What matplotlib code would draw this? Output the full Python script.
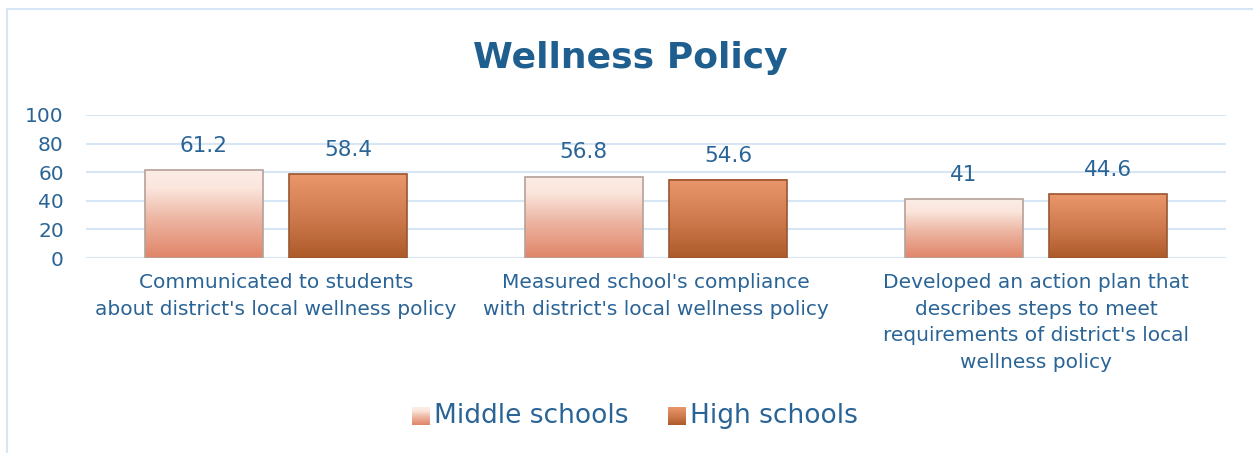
import matplotlib

matplotlib.use("Agg")
import matplotlib.pyplot as plt
import numpy as np
from matplotlib.colors import LinearSegmentedColormap
from matplotlib.patches import Rectangle

plt.rcParams["font.family"] = ["DejaVu Sans"]

categorias = [
    "Communicated to students\nabout district's local wellness policy",
    "Measured school's compliance\nwith district's local wellness policy",
    "Developed an action plan that\ndescribes steps to meet\nrequirements of district's local\nwellness policy",
]
series = ["Middle schools", "High schools"]
middle = [61.2, 56.8, 41]
high = [58.4, 54.6, 44.6]
rotulos_valor_middle = ["61.2", "56.8", "41"]
rotulos_valor_high = ["58.4", "54.6", "44.6"]
yticks = [0, 20, 40, 60, 80, 100]

COR_TEXTO = "#2A6496"
COR_TITULO = "#1F5F8F"
COR_GRID = "#D6E6F4"

cmap_middle = LinearSegmentedColormap.from_list(
    "m", [(0, "#E08468"), (0.45, "#EDB6A3"), (0.8, "#FBE6DD"), (1, "#FCEDE6")])
cmap_high = LinearSegmentedColormap.from_list("h", ["#AD5A2A", "#CF7B4F", "#E9976B"])
bordas = ["#B5A199", "#9A5530"]

fig = plt.figure(figsize=(12.53, 4.53), dpi=100)
fig.patches.append(Rectangle((7 / 1253, -0.1), 1.2, (453 - 9) / 453 + 0.1,
                             transform=fig.transFigure, fill=False,
                             edgecolor=COR_GRID, linewidth=1.5))
ax = fig.add_axes([86 / 1253, (453 - 258) / 453, 1140 / 1253, 143 / 453])

x = np.arange(len(categorias))
largura = 0.31
desloc = 0.19
grad = np.linspace(0, 1, 256).reshape(-1, 1)

for valores, rotulos, sinal, cmap, borda in [
    (middle, rotulos_valor_middle, -1, cmap_middle, bordas[0]),
    (high, rotulos_valor_high, 1, cmap_high, bordas[1]),
]:
    for xi, v, r in zip(x, valores, rotulos):
        x0 = xi + sinal * desloc - largura / 2
        ax.imshow(grad, extent=[x0, x0 + largura, 0, v], origin="lower",
                  aspect="auto", cmap=cmap, zorder=2)
        ax.add_patch(Rectangle((x0, 0), largura, v, fill=False,
                               edgecolor=borda, linewidth=1.2, zorder=3))
        ax.text(xi + sinal * desloc, v + 10, r, ha="center", va="bottom",
                fontsize=15.5, color=COR_TEXTO)

ax.set_xlim(-0.5, len(categorias) - 0.5)
ax.set_ylim(0, 100)
ax.set_yticks(yticks)
ax.set_yticklabels([str(t) for t in yticks], fontsize=14.5, color=COR_TEXTO)
ax.tick_params(axis="y", length=0, pad=16)
ax.set_xticks(x)
ax.set_xticklabels(categorias, fontsize=14.5, color=COR_TEXTO, linespacing=1.5)
ax.tick_params(axis="x", length=0, pad=11)
ax.yaxis.grid(True, color=COR_GRID, linewidth=1.5)
ax.set_axisbelow(True)
for s in ax.spines.values():
    s.set_visible(False)

fig.text(0.503, 0.872, "Wellness Policy", ha="center", va="center",
         fontsize=26, fontweight="bold", color=COR_TITULO)

# legenda com quadrados em gradiente
leg_y = (453 - 416) / 453
for xpos, nome, cmap, borda in [(412, series[0], cmap_middle, bordas[0]),
                                (668, series[1], cmap_high, bordas[1])]:
    lax = fig.add_axes([xpos / 1253, leg_y - 9 / 453, 18 / 1253, 18 / 453])
    lax.imshow(grad, origin="lower", aspect="auto", cmap=cmap)
    lax.set_xticks([])
    lax.set_yticks([])
    for s in lax.spines.values():
        s.set_visible(False)
    fig.text((xpos + 22) / 1253, leg_y, nome, ha="left", va="center",
             fontsize=19, color=COR_TEXTO)

fig.savefig("out.png", dpi=100)
